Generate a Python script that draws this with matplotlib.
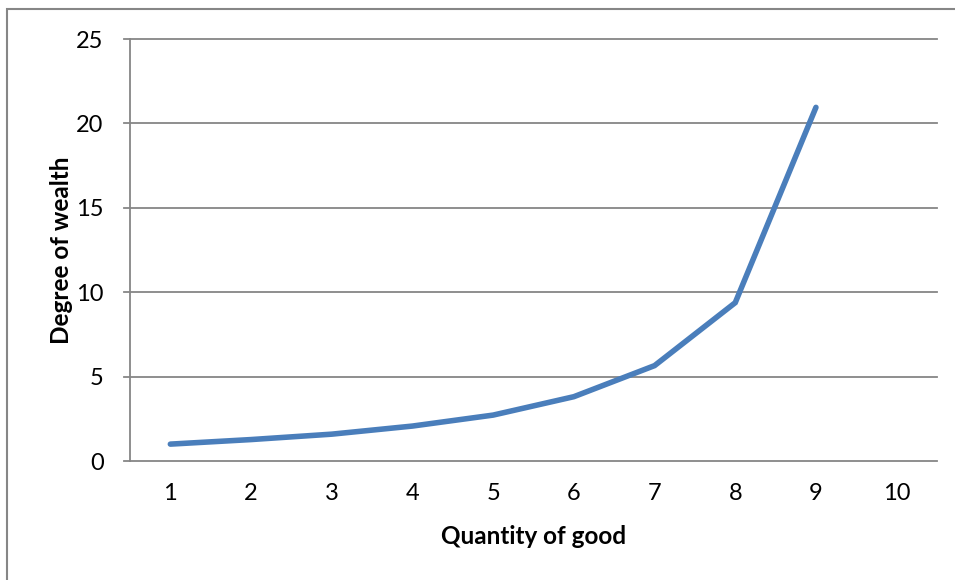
import matplotlib
matplotlib.use("Agg")
import matplotlib.pyplot as plt
from matplotlib.patches import Rectangle

# data
quantity = [1, 2, 3, 4, 5, 6, 7, 8, 9, 10]
wealth = [1.0, 1.27, 1.59, 2.07, 2.72, 3.81, 5.65, 9.38, 20.95]
y_ticks = [0, 5, 10, 15, 20, 25]

plt.rcParams['font.family'] = ['Lato', 'DejaVu Sans']

fig = plt.figure(figsize=(9.55, 5.80), dpi=100, facecolor='w')
ax = fig.add_axes([130 / 955, 1 - 461 / 580, (937 - 130) / 955, (461 - 39) / 580])

grid_c = '#868686'
tick_len = 6 / 807
for v in y_ticks:
    ax.plot([-tick_len, 1 if v else 0], [v, v], transform=ax.get_yaxis_transform(),
            color=grid_c, linewidth=1.3, clip_on=False, zorder=1)

ax.plot(quantity[:len(wealth)], wealth, color='#4A7EBB', linewidth=4,
        solid_capstyle='round', solid_joinstyle='miter', zorder=3)

ax.set_xlim(0.5, 10.5)
ax.set_ylim(0, 25)
ax.set_xticks(quantity)
ax.set_xticklabels([str(q) for q in quantity])
ax.set_yticks(y_ticks)

for s in ['top', 'right']:
    ax.spines[s].set_visible(False)
for s in ['left', 'bottom']:
    ax.spines[s].set_color(grid_c)
    ax.spines[s].set_linewidth(1.3)

ax.tick_params(axis='y', length=0, pad=19, labelsize=17)
ax.tick_params(axis='x', length=0, pad=16, labelsize=17)

ax.set_ylabel("Degree of wealth", fontsize=17.5, fontweight='bold', labelpad=2)
ax.set_xlabel("Quantity of good", fontsize=17.5, fontweight='bold', labelpad=15)

# outer chart border
fig.patches.append(Rectangle((7 / 955, -0.1), 1.2, 1 - 9 / 580 + 0.1,
                             transform=fig.transFigure, fill=False,
                             edgecolor=grid_c, linewidth=1.5))

fig.savefig("out.png", dpi=100, facecolor='w')
